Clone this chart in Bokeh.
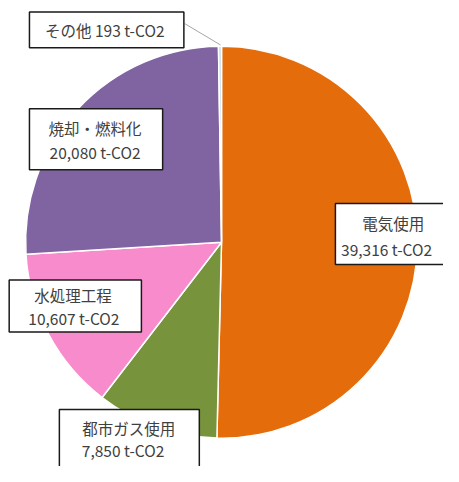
import numpy as np
from bokeh.plotting import figure
from bokeh.models import Range1d
from bokeh.core.properties import value
from bokeh.embed import file_html
from bokeh.resources import INLINE

# ---- data ----
categories = ["電気使用", "都市ガス使用", "水処理工程", "焼却・燃料化", "その他"]
emissions = [39316, 7850, 10607, 20080, 193]
unit = "t-CO2"
colors = ["#E46C0A", "#77933C", "#F88BCB", "#8064A2", "#C3DEEA"]

# ---- layout (reference px, mapped onto a 443x466 figure) ----
REF_W, REF_H = 459, 482
W, H = 443, 466
def Y(sy):
    return REF_H - sy

cx, cy, R = 229, 250, 203

# label boxes: (left, right, top, bottom) and line centres (x, y1, y2)
label_layout = [
    dict(box=(347, 470, 210, 273), x=[407, 400], y=[230, 257]),   # 電気使用
    dict(box=(61, 206, 423, 500), x=[133, 127], y=[442, 465]),    # 都市ガス使用
    dict(box=(9, 146, 289, 343), x=[75, 76], y=[305, 328]),       # 水処理工程
    dict(box=(30, 168, 112, 175), x=[98, 98], y=[132, 157]),      # 焼却・燃料化
    dict(box=(30, 190, 12, 49), x=[108], y=[30]),                 # その他
]

p = figure(width=W, height=H, output_backend="svg", toolbar_location=None,
           x_range=Range1d(0, REF_W), y_range=Range1d(0, REF_H),
           min_border=0)
p.axis.visible = False
p.grid.visible = False
p.outline_line_color = None
p.background_fill_color = "white"
p.border_fill_color = "white"

vals = np.array(emissions, dtype=float)
frac = vals / vals.sum()
cum = np.concatenate([[0], np.cumsum(frac)])
starts = np.pi / 2 - 2 * np.pi * cum[:-1]
ends = np.pi / 2 - 2 * np.pi * cum[1:]

p.wedge(x=cx, y=Y(cy), radius=R, start_angle=starts, end_angle=ends,
        direction="clock", fill_color=colors, line_color="white", line_width=1.5)

# leader line for その他
p.line([191, 228], [Y(24), Y(46)], line_color="#A6A6A6", line_width=1)

font = value("Noto Sans CJK JP")
for i, (name, v) in enumerate(zip(categories, emissions)):
    lay = label_layout[i]
    l, r, t, b = lay["box"]
    p.quad(left=l, right=r, top=Y(t), bottom=Y(b), fill_color="white",
           line_color="#1a1a1a", line_width=1.5)
    if len(lay["y"]) == 1:
        lines = [f"{name} {v:,} {unit}"]
    else:
        lines = [name, f"{v:,} {unit}"]
    for txt, tx, ty in zip(lines, lay["x"], lay["y"]):
        p.text(x=[tx], y=[Y(ty)], text=[txt], text_font=font,
               text_font_size="15.5px", text_color="#404040",
               text_align="center", text_baseline="middle")

open("out.html", "w").write(file_html(p, INLINE))
